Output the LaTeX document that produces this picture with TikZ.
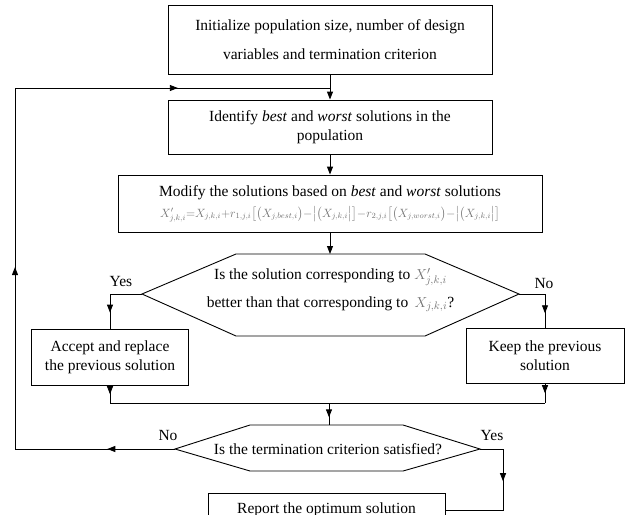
\documentclass[tikz,border=0pt]{standalone}
\usepackage{amsmath}
\usepackage{fontspec}
\setmainfont{Liberation Serif}
\usetikzlibrary{arrows.meta,decorations.markings}
\definecolor{formula}{gray}{0.45}

\begin{document}
\begin{tikzpicture}[x=1pt,y=-1pt,line width=0.9pt,
  font=\fontsize{15.5}{19}\selectfont,
  box/.style = {draw, align=center, inner sep=0pt},
  txt/.style = {align=center, inner sep=0pt},
  arr/.style = {-{Triangle[length=8pt,width=6pt]}},
  midarr/.style = {postaction={decorate},decoration={markings,
    mark=at position #1 with {\arrow{Triangle[length=8pt,width=6pt]}}}}]
\useasboundingbox (0,0) rectangle (626,514);

\node[box, minimum width=324, minimum height=69] (1) at (330,39.5) {Initialize population size, number of design\\[10pt] variables and termination criterion};
\node[box, minimum width=324, minimum height=54] (2) at (330,127) {Identify \textit{best} and \textit{worst} solutions in the\\ population};
\node[box, minimum width=424, minimum height=57] (3) at (330,203.5) {Modify the solutions based on \textit{best} and \textit{worst} solutions\\[2pt]
  {\fontsize{11.5}{13}\selectfont\color{formula}$X'_{j,k,i}{=}X_{j,k,i}{+}r_{1,j,i}\big[\big(X_{j,best,i}\big){-}\big|\big(X_{j,k,i}\big|\big]{-}r_{2,j,i}\big[\big(X_{j,worst,i}\big){-}\big|\big(X_{j,k,i}\big|\big]$}};

% first decision
\node[txt] (4) at (330.5,290) {Is the solution corresponding to {\color{formula}$X'_{j,k,i}$}\\[9pt] better than that corresponding to \,{\color{formula}$X_{j,k,i}$}?};
\coordinate (4w) at (142,294);
\coordinate (4e) at (519,294);
\coordinate (4n) at (330,254);
\draw (4w) -- (236,254) -- (425,254) -- (4e) -- (425,336) -- (236,336) -- cycle;

\node[box, minimum width=157, minimum height=56] (5) at (110,357) {Accept and replace\\ the previous solution};
\node[box, minimum width=158, minimum height=55] (6) at (545,355.5) {Keep the previous\\ solution};

% second decision
\node[txt] (7) at (328,449) {Is the termination criterion satisfied?};
\coordinate (7w) at (175,449);
\coordinate (7e) at (480,449);
\coordinate (7n) at (329,425);
\draw (7w) -- (250,425) -- (403,425) -- (7e) -- (403,471) -- (250,471) -- cycle;

\node[box, minimum width=237, minimum height=34] (8) at (326.5,510) {Report the optimum solution};

\node (y1) at (121,281) {Yes};
\node (n1) at (544,283) {No};
\node (n2) at (168,435) {No};
\node (y2) at (492,435) {Yes};

\coordinate (ml) at (110,403);
\coordinate (mr) at (545,403);
\coordinate (m) at (329,403);
\coordinate (lb) at (15,449);
\coordinate (lt) at (15,88);
\coordinate (jn) at (330,88);
\coordinate (yb) at (503,449);

\draw[arr] (1) -- (2);
\draw[arr] (2) -- (3);
\draw[arr] (3) -- (4n);
\draw[midarr=0.76] (4w) -| (5);
\draw[midarr=0.76] (4e) -| (6);
\draw[midarr=0.5] (5) -- (ml);
\draw[midarr=0.5] (6) -- (mr);
\draw (ml) -- (mr);
\draw[midarr=0.65] (m) -- (7n);
\draw[postaction={decorate},decoration={markings,
    mark=at position 0.081 with {\arrow{Triangle[length=8pt,width=6pt]}},
    mark=at position 0.409 with {\arrow{Triangle[length=8pt,width=6pt]}},
    mark=at position 0.818 with {\arrow{Triangle[length=8pt,width=6pt]}}}]
  (7w) -- (lb) -- (lt) -- (jn);
\draw[midarr=0.39] (7e) -- (yb) |- (8);
\end{tikzpicture}
\end{document}
